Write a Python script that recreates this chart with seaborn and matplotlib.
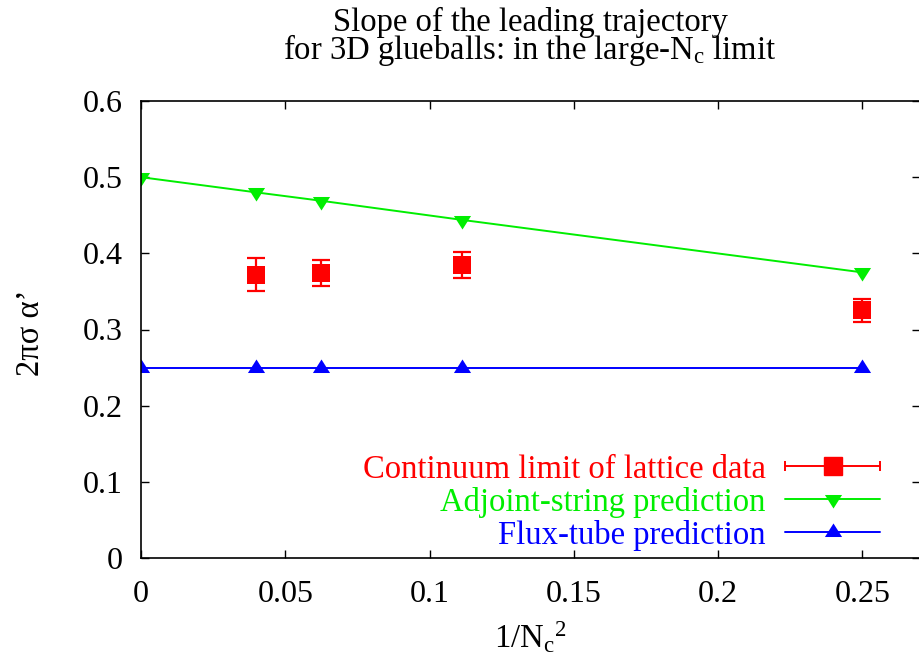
import matplotlib
matplotlib.use("Agg")
import matplotlib.pyplot as plt
from matplotlib.lines import Line2D
from matplotlib.legend_handler import HandlerLine2D, HandlerTuple
import numpy as np
import pandas as pd
import seaborn as sns

# 1/N_c^2 for N_c = 5, 4, 3, 2 (and the N_c -> infinity limit at 0)
inv_nc2_lattice = [0.04, 0.0625, 0.1111, 0.25]
slope_lattice = [0.372, 0.374, 0.385, 0.325]
slope_lattice_err = [0.022, 0.017, 0.017, 0.015]

inv_nc2_pred = [0.0, 0.04, 0.0625, 0.1111, 0.25]
slope_adjoint = [0.5, 0.48, 0.469, 0.444, 0.375]
slope_flux = [0.25, 0.25, 0.25, 0.25, 0.25]

x_ticks = [0, 0.05, 0.1, 0.15, 0.2, 0.25]
x_tick_labels = ["0", "0.05", "0.1", "0.15", "0.2", "0.25"]
y_ticks = [0, 0.1, 0.2, 0.3, 0.4, 0.5, 0.6]
y_tick_labels = ["0", "0.1", "0.2", "0.3", "0.4", "0.5", "0.6"]

legend_labels = ["Continuum limit of lattice data",
                 "Adjoint-string prediction",
                 "Flux-tube prediction"]
colors = ["#ff0000", "#00ee00", "#0000ff"]

sns.set_style("ticks")
plt.rcParams["font.family"] = ["Liberation Serif", "DejaVu Serif"]
plt.rcParams["mathtext.fontset"] = "custom"
plt.rcParams["mathtext.rm"] = "Liberation Serif"
plt.rcParams["mathtext.it"] = "Liberation Serif:italic"
plt.rcParams["text.color"] = "black"
plt.rcParams["axes.labelcolor"] = "black"

FS_TICK = 23
FS = 23.5

fig = plt.figure(figsize=(9.19, 6.66), dpi=100)
ax = fig.add_axes([141 / 919, (666 - 558) / 666, (920 - 141) / 919, (558 - 101) / 666])

# flattened triangles, centred on their centroid
tri_down = [(-0.95, 0.5), (0.95, 0.5), (0.0, -1.0), (-0.95, 0.5)]
tri_up = [(-0.95, -0.5), (0.95, -0.5), (0.0, 1.0), (-0.95, -0.5)]

pred = pd.DataFrame({"x": inv_nc2_pred, "adj": slope_adjoint, "flux": slope_flux})
sns.lineplot(data=pred, x="x", y="adj", ax=ax, color=colors[1], lw=1.4,
             marker=tri_down, markersize=13, markeredgewidth=0, sort=False)
sns.lineplot(data=pred, x="x", y="flux", ax=ax, color=colors[2], lw=1.4,
             marker=tri_up, markersize=13, markeredgewidth=0, sort=False)

ax.errorbar(inv_nc2_lattice, slope_lattice, yerr=slope_lattice_err, fmt="none",
            ecolor=colors[0], elinewidth=1.6, capsize=6.5, capthick=1.6, zorder=3)
lat = pd.DataFrame({"x": inv_nc2_lattice, "y": slope_lattice})
sns.scatterplot(data=lat, x="x", y="y", ax=ax, color=colors[0], marker="s",
                s=13 ** 2, linewidth=0, zorder=4)

ax.set_xlim(0, 0.27)
ax.set_ylim(0, 0.6)
ax.set_xticks(x_ticks)
ax.set_yticks(y_ticks)
ax.set_xticklabels(x_tick_labels)
ax.set_yticklabels(y_tick_labels)
ax.tick_params(direction="in", length=6, width=1, top=True, right=True,
               labelsize=FS_TICK, colors="black")
ax.tick_params(axis="y", pad=13)
ax.tick_params(axis="x", pad=16)
for sp in ax.spines.values():
    sp.set_linewidth(1.2)
    sp.set_color("black")

ax.set_xlabel(r"$1/\mathrm{N}_\mathrm{c}{}^\mathrm{2}$", fontsize=FS)
ax.set_ylabel("2πσ α’", fontsize=FS)
ax.xaxis.set_label_coords(0.5, -0.135)
ax.yaxis.set_label_coords(-0.122, 0.492)

fig.text(530 / 919, 0.99,
         "Slope of the leading trajectory\n"
         r"for 3D glueballs: in the large-N$_\mathrm{c}$ limit",
         ha="center", va="top", fontsize=FS, linespacing=0.8,
         multialignment="center")

# legend: error-bar sample with end caps, line samples with centred marker
cap_line = Line2D([], [], color=colors[0], lw=1.4, marker="|", markersize=7,
                  markeredgewidth=1.4)
sq = Line2D([], [], color=colors[0], lw=0, marker="s", markersize=13)
h_adj = Line2D([], [], color=colors[1], lw=1.4, marker=tri_down, markersize=13,
               markeredgewidth=0)
h_flux = Line2D([], [], color=colors[2], lw=1.4, marker=tri_up, markersize=13,
                markeredgewidth=0)
leg = ax.legend([(cap_line, sq), h_adj, h_flux], legend_labels,
                handler_map={tuple: HandlerTuple(ndivide=1),
                             cap_line: HandlerLine2D(numpoints=2, marker_pad=0),
                             sq: HandlerLine2D(numpoints=1)},
                loc="lower right", bbox_to_anchor=(0.9487, 0.016), frameon=False,
                markerfirst=False, fontsize=FS, handlelength=2.9,
                handletextpad=0.6, labelspacing=0.06, borderaxespad=0,
                borderpad=0)
for txt, c in zip(leg.get_texts(), colors):
    txt.set_color(c)

fig.savefig("out.png", dpi=100)
